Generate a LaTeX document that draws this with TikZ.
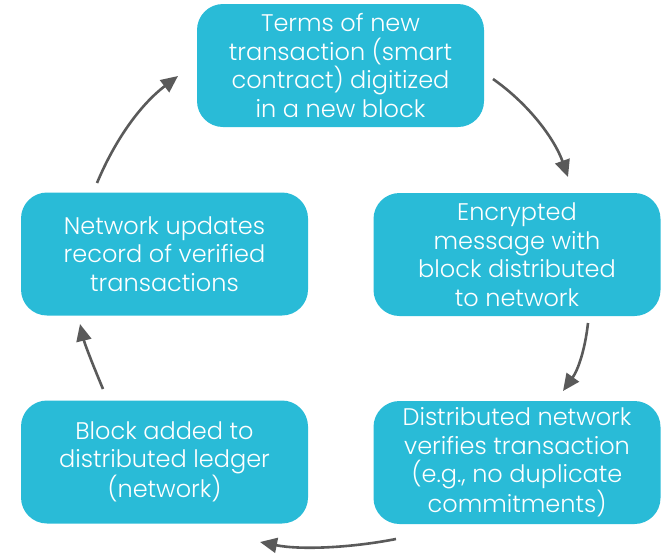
\documentclass[tikz,border=0pt]{standalone}
\usepackage{fontspec}
\setmainfont{Poppins}[Ligatures=NoCommon, UprightFont=* Light]
\usetikzlibrary{arrows.meta}
\definecolor{boxc}{HTML}{29BBD7}
\definecolor{arrc}{HTML}{5A5A5A}
\begin{document}
\begin{tikzpicture}[x=1pt,y=-1pt,
  stepbox/.style={fill=boxc, rounded corners=26pt, text=white, align=center,
    font=\fontsize{24}{28.5}\selectfont, minimum width=287pt, minimum height=123pt, inner sep=0pt},
  flow/.style={draw=arrc, line width=2.6pt, -{Triangle[length=17pt,width=15pt]}}]
\useasboundingbox (0,0) rectangle (666,555);
\node[stepbox] (a) at (340.5,65.5) {Terms of new\\transaction (smart\\contract) digitized\\in a new block};
\node[stepbox] (b) at (517,254.5) {Encrypted\\message with\\block distributed\\to network};
\node[stepbox] (c) at (517,462.5) {Distributed network\\verifies transaction\\(e.g., no duplicate\\commitments)};
\node[stepbox] (d) at (164.5,462) {Block added to\\distributed ledger\\(network)};
\node[stepbox] (e) at (164.5,254) {Network updates\\record of verified\\transactions};
\coordinate (a1) at (493,79);
\coordinate (b0) at (568,177);
\coordinate (b1) at (588,323);
\coordinate (c0) at (563,391);
\coordinate (c1) at (396,539);
\coordinate (d0) at (260,542);
\coordinate (d1) at (103,389);
\coordinate (e0) at (80,324);
\coordinate (e1) at (97,183);
\coordinate (a0) at (178,76);
\draw[flow] (a1) .. controls (530,105) and (555,140) .. (b0);
\draw[flow] (b1) .. controls (585,350) and (578,370) .. (c0);
\draw[flow] (c1) .. controls (350,548) and (300,550) .. (d0);
\draw[flow] (d1) .. controls (95,370) and (85,345) .. (e0);
\draw[flow] (e1) .. controls (115,140) and (140,105) .. (a0);
\end{tikzpicture}
\end{document}
